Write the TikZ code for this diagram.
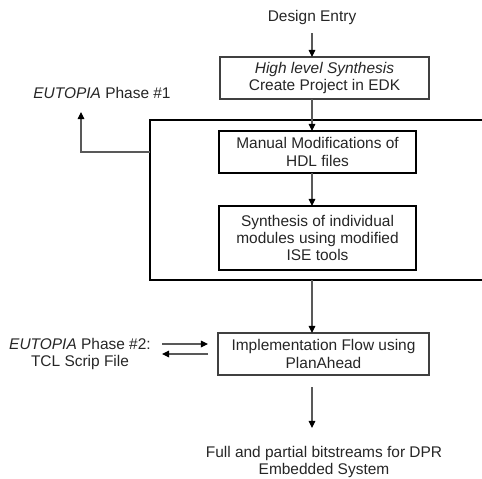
\documentclass[tikz,border=0pt]{standalone}
\usepackage{fontspec}
\setmainfont{Liberation Sans}
\usetikzlibrary{arrows.meta}
\begin{document}
\begin{tikzpicture}[x=0.02cm,y=-0.02cm,
  every node/.style={font=\fontsize{8.8}{9.8}\selectfont, text=black!85, inner sep=0pt, outer sep=0pt, align=center},
  thinbox/.style={draw=black!75, line width=0.6pt, fill=white},
  thickbox/.style={draw=black, line width=1.6pt, fill=white},
  arr/.style={draw=black!65, line width=0.6pt, -{Triangle[length=4pt,width=3.8pt,color=black]}},
  plain/.style={draw=black!70, line width=0.6pt}]
\useasboundingbox (0,0) rectangle (482,478);
\clip (0,0) rectangle (482,478);
\coordinate (ax) at (312,0);
% text nodes
\node (entry) at (312,17) {Design Entry};
\node (phase1) at (102,93) {\textit{EUTOPIA} Phase \#1};
\node (phase2) at (80,354) {\textit{EUTOPIA} Phase \#2:\\TCL Scrip File};
\node (out) at (324,462) {Full and partial bitstreams for DPR\\Embedded System};
% boxes
\node[thinbox, minimum width=4.18cm, minimum height=0.84cm] (hls) at (324.5,78) {\textit{High level Synthesis}\\Create Project in EDK};
\node[thickbox, minimum width=6.8cm, minimum height=3.2cm] (big) at (320,200) {};
\node[thickbox, minimum width=3.94cm, minimum height=0.84cm] (man) at (317.5,152) {Manual Modifications of\\HDL files};
\node[thickbox, minimum width=3.94cm, minimum height=1.28cm] (syn) at (317.5,238) {Synthesis of individual\\modules using modified\\ISE tools};
\node[thinbox, minimum width=4.22cm, minimum height=0.84cm] (impl) at (323.5,354) {Implementation Flow using\\PlanAhead};
% connectors
\coordinate (c1) at (81,152);
\coordinate (t1) at (81,112);
\coordinate (r1) at (162,344);
\coordinate (r2) at (208,344);
\coordinate (l1) at (208,354);
\coordinate (l2) at (162,354);
\coordinate (o1) at (312,387);
\coordinate (o2) at (312,428);
\draw[arr] (ax |- 0,33) -- (hls.north -| ax);
\draw[arr] (hls.south -| ax) -- (man.north -| ax);
\draw[arr] (man.south -| ax) -- (syn.north -| ax);
\draw[arr] (big.south -| ax) -- (impl.north -| ax);
\draw[arr] (o1) -- (o2);
\draw[arr] (big.west |- c1) -- (c1) -- (t1);
\draw[arr] (r1) -- (r2);
\draw[arr] (l1) -- (l2);
\end{tikzpicture}
\end{document}
